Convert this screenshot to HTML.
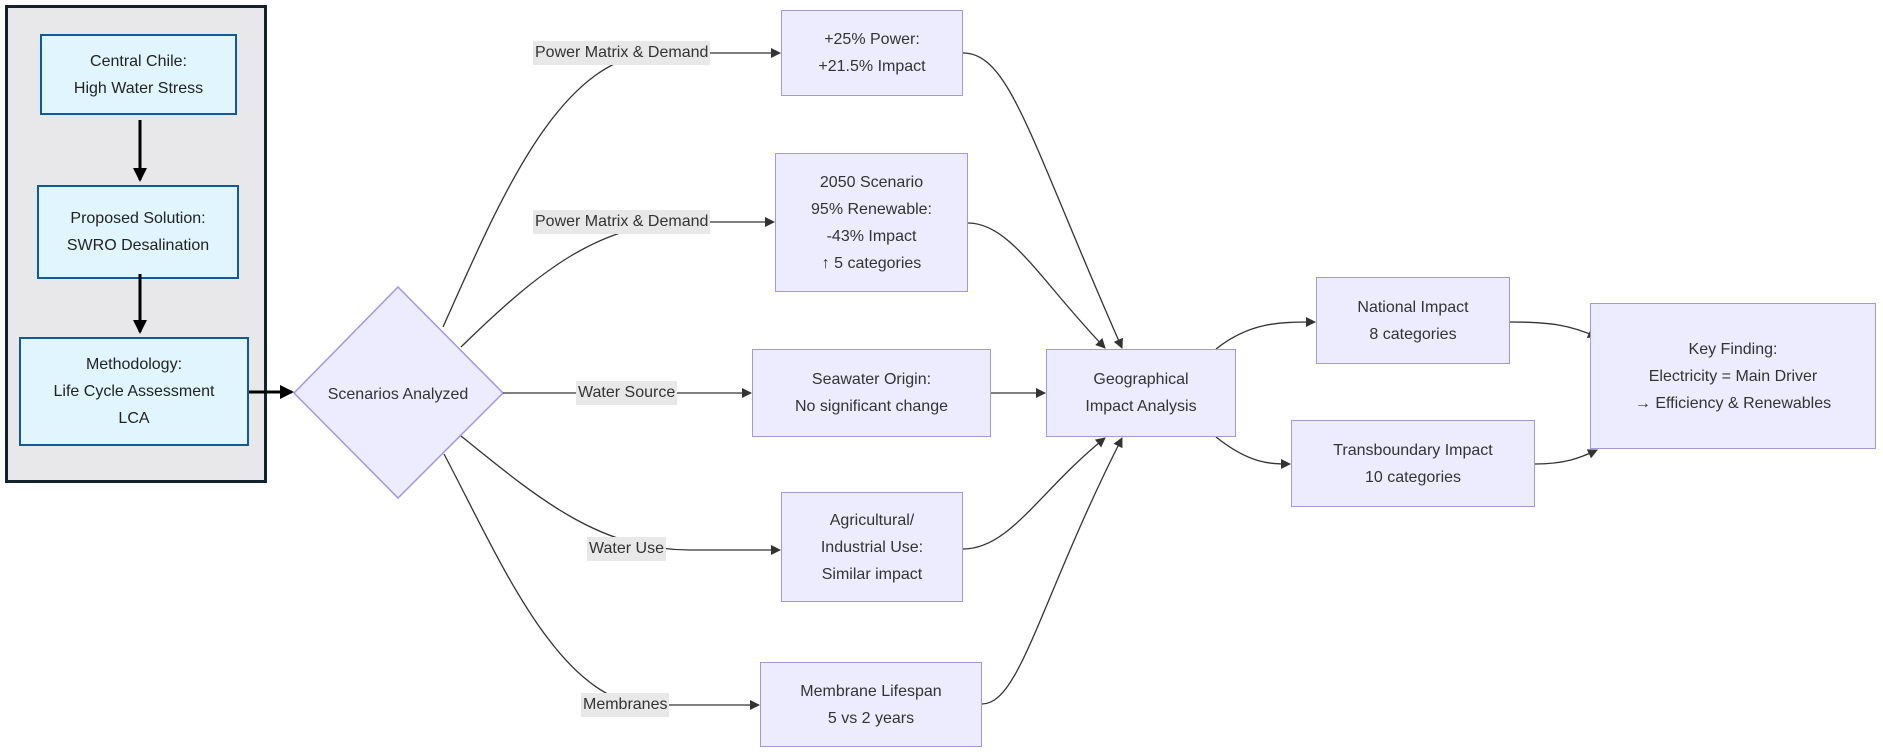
<!DOCTYPE html>
<html><head><meta charset="utf-8"><style>
body{margin:0;width:1883px;height:755px;background:#fff;position:relative;overflow:hidden;font-family:"Liberation Sans","DejaVu Sans",sans-serif;}
.b{position:absolute;box-sizing:border-box;display:flex;align-items:center;justify-content:center;text-align:center;font-size:16px;line-height:27px;color:#333;}
.p{background:#ececfe;border:1.5px solid #a696e0;}
.c{background:#e1f5fe;border:2px solid #0f5a9c;color:#222;}
.l{position:absolute;background:#e8e8e8;font-size:16px;line-height:24px;color:#333;padding:0 2px;}
</style></head><body>
<div style="position:absolute;left:5px;top:5px;width:262px;height:478px;box-sizing:border-box;background:#e8e8ea;border:3px solid #14222e;"></div>
<div class="b c" style="left:40px;top:34px;width:197px;height:81px;">Central Chile:<br>High Water Stress</div>
<div class="b c" style="left:37px;top:185px;width:202px;height:94px;">Proposed Solution:<br>SWRO Desalination</div>
<div class="b c" style="left:19px;top:337px;width:230px;height:109px;">Methodology:<br>Life Cycle Assessment<br>LCA</div>
<svg width="1883" height="755" style="position:absolute;left:0;top:0">
<defs>
<marker id="a" markerWidth="10" markerHeight="10" refX="9" refY="5" orient="auto" markerUnits="userSpaceOnUse"><path d="M0,0 L10,5 L0,10z" fill="#333"/></marker>
<marker id="k" markerWidth="14" markerHeight="14" refX="12" refY="7" orient="auto" markerUnits="userSpaceOnUse"><path d="M0,0 L14,7 L0,14z" fill="#000"/></marker>
</defs>
<g stroke="#000" stroke-width="3" fill="none">
<path d="M140,120 L140,180" marker-end="url(#k)"/>
<path d="M140,274 L140,332" marker-end="url(#k)"/>
<path d="M249,392 L292,392" marker-end="url(#k)"/>
</g>
<polygon points="398,287 503,393 398,498 294,393" fill="#ececfe" stroke="#a696e0" stroke-width="1.5"/>
<text x="398" y="399" font-size="16" text-anchor="middle" fill="#333" font-family="Liberation Sans, sans-serif">Scenarios Analyzed</text>
<g stroke="#333" stroke-width="1.3" fill="none" marker-end="url(#a)">
<path d="M443,327 C500,200 560,53 660,53 L780,53"/>
<path d="M461,347 C540,270 600,222 690,222 L774,222"/>
<path d="M503,393 L751,393"/>
<path d="M461,436 C540,500 600,550 690,550 L780,550"/>
<path d="M444,454 C500,560 560,705 650,705 L759,705"/>
<path d="M963,53 C1010,53 1030,140 1122,348"/>
<path d="M968,223 C1010,223 1040,280 1105,348"/>
<path d="M991,393 L1045,393"/>
<path d="M963,549 C1010,549 1040,490 1105,438"/>
<path d="M982,704 C1020,704 1040,600 1122,438"/>
<path d="M1216,349 C1250,322 1280,322 1315,322"/>
<path d="M1216,437 C1250,464 1270,464 1290,464"/>
<path d="M1510,322 C1550,322 1570,325 1597,337"/>
<path d="M1535,464 C1565,464 1580,458 1597,450"/>
</g>
</svg>
<div class="l" style="left:533px;top:41px;">Power Matrix &amp; Demand</div>
<div class="l" style="left:533px;top:210px;">Power Matrix &amp; Demand</div>
<div class="l" style="left:576px;top:381px;">Water Source</div>
<div class="l" style="left:587px;top:537px;">Water Use</div>
<div class="l" style="left:581px;top:693px;">Membranes</div>
<div class="b p" style="left:781px;top:10px;width:182px;height:86px;">+25% Power:<br>+21.5% Impact</div>
<div class="b p" style="left:775px;top:153px;width:193px;height:139px;">2050 Scenario<br>95% Renewable:<br>-43% Impact<br>↑ 5 categories</div>
<div class="b p" style="left:752px;top:349px;width:239px;height:88px;">Seawater Origin:<br>No significant change</div>
<div class="b p" style="left:781px;top:492px;width:182px;height:110px;">Agricultural/<br>Industrial Use:<br>Similar impact</div>
<div class="b p" style="left:760px;top:662px;width:222px;height:85px;">Membrane Lifespan<br>5 vs 2 years</div>
<div class="b p" style="left:1046px;top:349px;width:190px;height:88px;">Geographical<br>Impact Analysis</div>
<div class="b p" style="left:1316px;top:277px;width:194px;height:87px;">National Impact<br>8 categories</div>
<div class="b p" style="left:1291px;top:420px;width:244px;height:87px;">Transboundary Impact<br>10 categories</div>
<div class="b p" style="left:1590px;top:303px;width:286px;height:146px;">Key Finding:<br>Electricity = Main Driver<br>→ Efficiency &amp; Renewables</div>
</body></html>
